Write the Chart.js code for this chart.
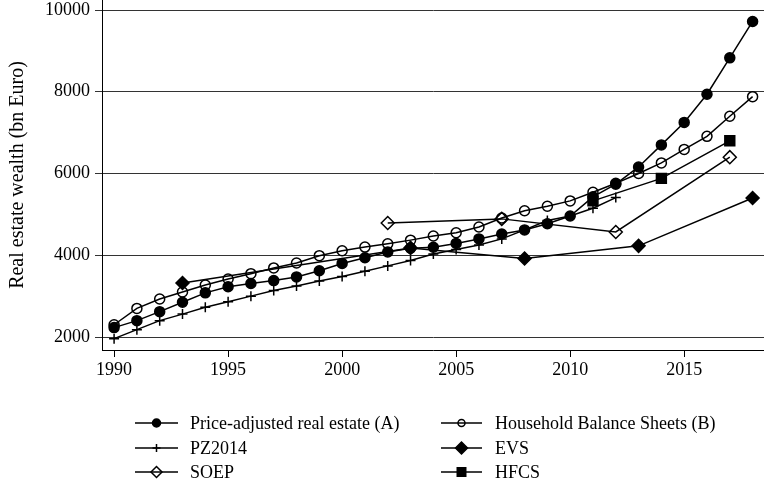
<!DOCTYPE html>
<html>
<head>
<meta charset="utf-8">
<script src="https://cdn.jsdelivr.net/npm/chart.js@4/dist/chart.umd.min.js"></script>
<style>
  html, body { margin: 0; padding: 0; background: #fff; }
  #wrap { width: 764px; height: 488px; position: relative; }
</style>
</head>
<body>
<div id="wrap"><canvas id="c" width="764" height="488"></canvas></div>
<script>
// ---- Data ----
const years = [1990,1991,1992,1993,1994,1995,1996,1997,1998,1999,2000,2001,2002,2003,2004,2005,2006,2007,2008,2009,2010,2011,2012,2013,2014,2015,2016,2017,2018];
const priceAdjusted = [2230,2400,2620,2850,3080,3230,3310,3380,3470,3620,3800,3940,4080,4170,4195,4290,4400,4520,4620,4770,4960,5430,5740,6160,6700,7250,7940,8830,9720];
const balanceSheets = [2300,2700,2930,3100,3270,3420,3550,3690,3810,3990,4110,4200,4280,4370,4470,4550,4690,4910,5090,5200,5330,5540,5760,6000,6260,6590,6910,7400,7880];
const pzYears = [1990,1991,1992,1993,1994,1995,1996,1997,1998,1999,2000,2001,2002,2003,2004,2005,2006,2007,2008,2009,2010,2011,2012];
const pz2014 = [1960,2180,2400,2560,2730,2860,3000,3140,3250,3370,3480,3610,3740,3870,4030,4140,4250,4400,4620,4850,4960,5150,5410];
const evsYears = [1993,2003,2008,2013,2018];
const evs = [3320,4180,3920,4230,5400];
const soepYears = [2002,2007,2012,2017];
const soep = [4790,4890,4570,6400];
const hfcsYears = [2011,2014,2017];
const hfcs = [5330,5880,6800];

const xTicks = [1990,1995,2000,2005,2010,2015];
const yTicks = [2000,4000,6000,8000,10000];
const yTitle = 'Real estate wealth (bn Euro)';

const FONT = '"Liberation Serif", "Times New Roman", serif';
const pairs = (xs, ys) => xs.map((x, i) => ({x, y: ys[i]}));

const series = [
  {label: 'Price-adjusted real estate (A)', data: pairs(years, priceAdjusted), style: 'circle', fill: true, r: 5, lr: 4},
  {label: 'Household Balance Sheets (B)', data: pairs(years, balanceSheets), style: 'circle', fill: false, r: 5, lr: 3.5},
  {label: 'PZ2014', data: pairs(pzYears, pz2014), style: 'cross', fill: false, r: 5, lr: 4},
  {label: 'EVS', data: pairs(evsYears, evs), style: 'rectRot', fill: true, r: 6.5, lr: 6},
  {label: 'SOEP', data: pairs(soepYears, soep), style: 'rectRot', fill: false, r: 6.5, lr: 5.5},
  {label: 'HFCS', data: pairs(hfcsYears, hfcs), style: 'rect', fill: true, r: 7, lr: 6}
];

function drawMarker(ctx, s, x, y, r) {
  ctx.save();
  ctx.lineWidth = 1.5;
  ctx.strokeStyle = '#000';
  ctx.fillStyle = '#000';
  ctx.beginPath();
  if (s.style === 'circle') {
    ctx.arc(x, y, r, 0, Math.PI * 2);
  } else if (s.style === 'cross') {
    ctx.moveTo(x - r, y); ctx.lineTo(x + r, y);
    ctx.moveTo(x, y - r); ctx.lineTo(x, y + r);
  } else if (s.style === 'rectRot') {
    ctx.moveTo(x - r, y); ctx.lineTo(x, y - r); ctx.lineTo(x + r, y); ctx.lineTo(x, y + r); ctx.closePath();
  } else if (s.style === 'rect') {
    const h = r * Math.SQRT1_2;
    ctx.rect(x - h, y - h, 2 * h, 2 * h);
  }
  if (s.fill) ctx.fill();
  ctx.stroke();
  ctx.restore();
}

const legendPlugin = {
  id: 'customLegend',
  afterDraw(chart) {
    const ctx = chart.ctx;
    const cols = [{x0: 135, x1: 178, tx: 190}, {x0: 441, x1: 482, tx: 495}];
    const rows = [423, 448, 472];
    series.forEach((s, i) => {
      const c = cols[i % 2];
      const y = rows[Math.floor(i / 2)];
      ctx.save();
      ctx.strokeStyle = '#000';
      ctx.lineWidth = 1.5;
      ctx.beginPath();
      ctx.moveTo(c.x0, y); ctx.lineTo(c.x1, y);
      ctx.stroke();
      ctx.restore();
      drawMarker(ctx, s, (c.x0 + c.x1) / 2, y, s.lr);
      ctx.save();
      ctx.fillStyle = '#000';
      ctx.font = '18px ' + FONT;
      ctx.textBaseline = 'middle';
      ctx.textAlign = 'left';
      ctx.fillText(s.label, c.tx, y + 1);
      ctx.restore();
    });
  }
};

new Chart(document.getElementById('c'), {
  type: 'line',
  data: {
    datasets: series.map(s => ({
      label: s.label,
      data: s.data,
      borderColor: '#000',
      borderWidth: 1.5,
      tension: 0,
      pointStyle: s.style,
      pointRadius: s.r,
      pointHoverRadius: s.r,
      pointBorderWidth: 1.5,
      pointBorderColor: '#000',
      pointBackgroundColor: s.fill ? '#000' : 'rgba(0,0,0,0)',
      fill: false,
      clip: 10
    }))
  },
  options: {
    responsive: false,
    animation: false,
    events: [],
    layout: {autoPadding: false, padding: {left: 0, top: 0, right: 0, bottom: 108}},
    plugins: {legend: {display: false}, tooltip: {enabled: false}},
    scales: {
      x: {
        type: 'linear',
        min: 1989.47,
        max: 2018.5,
        afterBuildTicks: s => { s.ticks = xTicks.map(v => ({value: v})); },
        afterFit: s => { s.height = 30; s.paddingLeft = 0; s.paddingRight = 0; },
        ticks: {
          color: '#000',
          font: {family: FONT, size: 18},
          padding: 2,
          maxRotation: 0,
          autoSkip: false,
          callback: v => String(v)
        },
        grid: {drawOnChartArea: false, drawTicks: true, tickLength: 7, color: '#000', lineWidth: 1},
        border: {display: true, color: '#000', width: 1}
      },
      y: {
        type: 'linear',
        min: 1682,
        max: 10245,
        afterBuildTicks: s => { s.ticks = yTicks.map(v => ({value: v})); },
        afterFit: s => { s.width = 102; s.paddingTop = 0; s.paddingBottom = 0; },
        ticks: {
          color: '#000',
          font: {family: FONT, size: 18},
          padding: 5,
          autoSkip: false,
          callback: v => String(v)
        },
        title: {
          display: true,
          text: yTitle,
          color: '#000',
          font: {family: FONT, size: 20},
          padding: {top: 6, bottom: 0}
        },
        grid: {drawOnChartArea: true, drawTicks: true, tickLength: 7, color: '#333', lineWidth: 1},
        border: {display: true, color: '#000', width: 1}
      }
    }
  },
  plugins: [legendPlugin]
});
</script>
</body>
</html>
